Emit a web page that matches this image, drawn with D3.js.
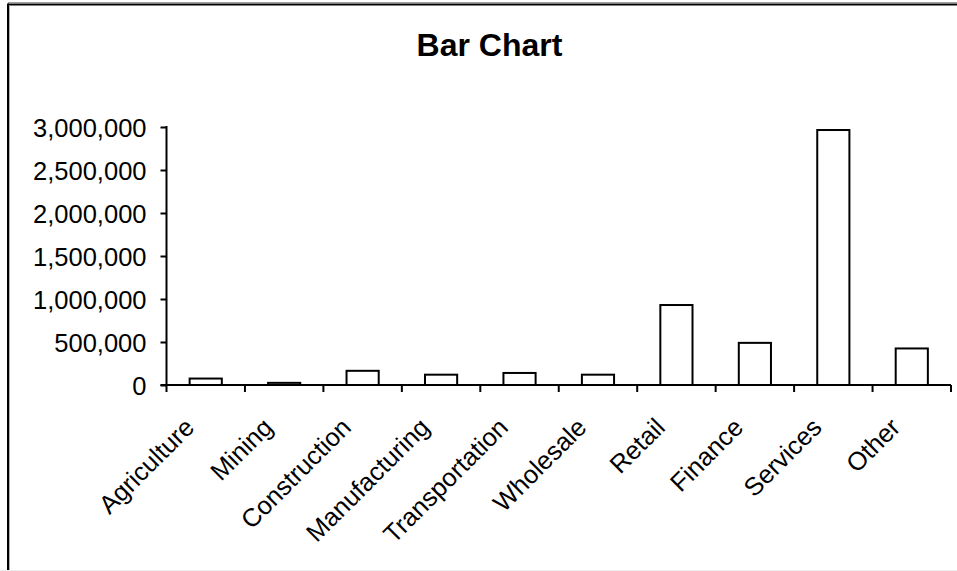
<!DOCTYPE html>
<html>
<head>
<meta charset="utf-8">
<script src="https://cdn.jsdelivr.net/npm/d3@7"></script>
<style>
  html, body { margin: 0; padding: 0; background: #fff; }
  svg { display: block; }
  text { font-family: "Liberation Sans", Arial, sans-serif; fill: #000; }
</style>
</head>
<body>
<svg id="chart" width="957" height="571"></svg>
<script>
const categories = ["Agriculture", "Mining", "Construction", "Manufacturing", "Transportation",
                    "Wholesale", "Retail", "Finance", "Services", "Other"];
const values = [75000, 25000, 165000, 120000, 140000, 120000, 930000, 490000, 2965000, 425000];
const yTicks = [0, 500000, 1000000, 1500000, 2000000, 2500000, 3000000];
const title = "Bar Chart";

const svg = d3.select("#chart");
const W = 957, H = 571;
const plot = { left: 166.5, right: 951, top: 127, bottom: 385 };

// outer frame (screenshot-style border)
svg.append("line").attr("x1", 8).attr("x2", W).attr("y1", 2.5).attr("y2", 2.5)
  .attr("stroke", "#a0a0a0").attr("stroke-width", 1);
svg.append("line").attr("x1", 8).attr("x2", W).attr("y1", 4.5).attr("y2", 4.5)
  .attr("stroke", "#000").attr("stroke-width", 2);
svg.append("line").attr("x1", 8).attr("x2", 8).attr("y1", 3.5).attr("y2", H)
  .attr("stroke", "#000").attr("stroke-width", 2);
svg.append("line").attr("x1", 9.5).attr("x2", 9.5).attr("y1", 5.5).attr("y2", H)
  .attr("stroke", "#b0b0b0").attr("stroke-width", 1);
svg.append("line").attr("x1", 0).attr("x2", W).attr("y1", 570.5).attr("y2", 570.5)
  .attr("stroke", "#eeeeee").attr("stroke-width", 1);

const x = d3.scaleBand().domain(categories)
  .range([plot.left, plot.right]).paddingInner(0.59).paddingOuter(0.295);
const y = d3.scaleLinear().domain([0, 3000000]).range([plot.bottom, plot.top]);

// title
svg.append("text").attr("x", 489.5).attr("y", 56)
  .attr("text-anchor", "middle").attr("font-size", 32).attr("font-weight", "bold")
  .text(title);

// y axis
const yAxis = d3.axisLeft(y).tickValues(yTicks).tickSize(6).tickPadding(14)
  .tickFormat(d3.format(","));
const gy = svg.append("g").attr("transform", `translate(${plot.left},0)`).call(yAxis);
gy.select(".domain").attr("stroke", "#000").attr("stroke-width", 2)
  .attr("d", `M0,${plot.top - 1}V${plot.bottom}`);
gy.selectAll(".tick line").attr("stroke", "#000").attr("stroke-width", 2);
gy.selectAll(".tick text").attr("font-size", 25.5).attr("dy", "0.36em")
  .style("font-family", '"Liberation Sans", Arial, sans-serif').attr("fill", "#000");

// bars
svg.append("g").selectAll("rect").data(categories).join("rect")
  .attr("x", d => x(d))
  .attr("y", (d, i) => y(values[i]))
  .attr("width", x.bandwidth())
  .attr("height", (d, i) => y(0) - y(values[i]))
  .attr("fill", "#fff").attr("stroke", "#000").attr("stroke-width", 2);

// x axis baseline
svg.append("line").attr("x1", plot.left - 6).attr("x2", plot.right)
  .attr("y1", plot.bottom).attr("y2", plot.bottom)
  .attr("stroke", "#000").attr("stroke-width", 2);

// x ticks at category boundaries
const step = x.step();
const bounds = d3.range(categories.length + 1).map(i => plot.left + i * step);
svg.append("g").selectAll("line").data(bounds).join("line")
  .attr("x1", d => d).attr("x2", d => d)
  .attr("y1", plot.bottom).attr("y2", plot.bottom + 7)
  .attr("stroke", "#000").attr("stroke-width", 2);

// x labels, rotated
svg.append("g").selectAll("text").data(categories).join("text")
  .attr("text-anchor", "end").attr("font-size", 25.5)
  .attr("transform", d => `translate(${x(d) + x.bandwidth() / 2 - 10},${plot.bottom + 44}) rotate(-45)`)
  .text(d => d);
</script>
</body>
</html>
